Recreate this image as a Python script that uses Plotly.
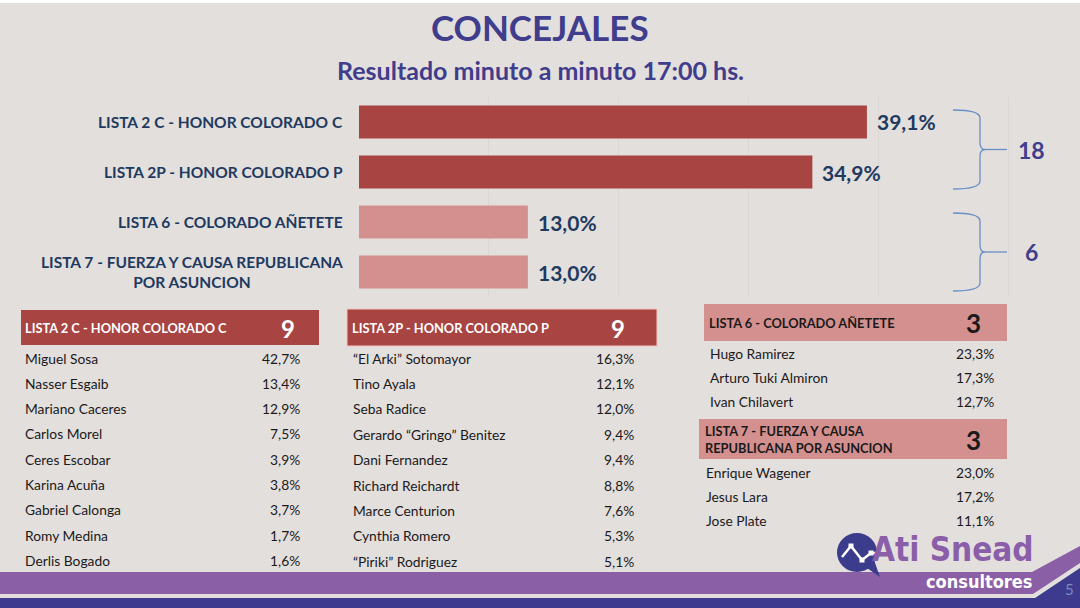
import plotly.graph_objects as go

# ------------------------ data ------------------------
listas = ["LISTA 2 C - HONOR COLORADO C",
          "LISTA 2P - HONOR COLORADO P",
          "LISTA 6 - COLORADO AÑETETE",
          "LISTA 7 - FUERZA Y CAUSA REPUBLICANA<br>POR ASUNCION"]
votos = [39.1, 34.9, 13.0, 13.0]
bar_colors = ["#A84442", "#A84442", "#D4908F", "#D4908F"]
bancas = ["18", "6"]

titulo = "CONCEJALES"
subtitulo = "Resultado minuto a minuto 17:00 hs."

t1_header = "LISTA 2 C - HONOR COLORADO C"
t1_bancas = "9"
t1_nombres = ["Miguel Sosa", "Nasser Esgaib", "Mariano Caceres", "Carlos Morel", "Ceres Escobar",
              "Karina Acuña", "Gabriel Calonga", "Romy Medina", "Derlis Bogado"]
t1_pct = ["42,7%", "13,4%", "12,9%", "7,5%", "3,9%", "3,8%", "3,7%", "1,7%", "1,6%"]

t2_header = "LISTA 2P - HONOR COLORADO P"
t2_bancas = "9"
t2_nombres = ["“El Arki” Sotomayor", "Tino Ayala", "Seba Radice", "Gerardo “Gringo” Benitez",
              "Dani Fernandez", "Richard Reichardt", "Marce Centurion", "Cynthia Romero", "“Piriki” Rodriguez"]
t2_pct = ["16,3%", "12,1%", "12,0%", "9,4%", "9,4%", "8,8%", "7,6%", "5,3%", "5,1%"]

t3_header = "LISTA 6 - COLORADO AÑETETE"
t3_bancas = "3"
t3_nombres = ["Hugo Ramirez", "Arturo Tuki Almiron", "Ivan Chilavert"]
t3_pct = ["23,3%", "17,3%", "12,7%"]

t4_header = "LISTA 7 - FUERZA Y CAUSA<br>REPUBLICANA POR ASUNCION"
t4_bancas = "3"
t4_nombres = ["Enrique Wagener", "Jesus Lara", "Jose Plate"]
t4_pct = ["23,0%", "17,2%", "11,1%"]

# ------------------------ helpers ------------------------
W, H = 1080, 608
BG = "#E3DFDD"
NAVY = "#1F3A5F"
PURPLE = "#3F3D8C"
FONT = "Lato, 'Open Sans', sans-serif"
LOGO_FONT = "'DejaVu Sans Condensed', 'Roboto', sans-serif"


def px(x):
    return x / W


def py(y):
    return 1 - y / H


def fmt(v):
    return f"{v:.1f}%".replace(".", ",")


shapes = []
annotations = []


def txt(x, y, text, size, color="#1A1A1A", bold=False, xanchor="left", align="left", family=FONT):
    annotations.append(dict(x=px(x), y=py(y), xref="paper", yref="paper", text=text,
                            showarrow=False, xanchor=xanchor, yanchor="middle", align=align,
                            font=dict(family=family, size=size, color=color,
                                      weight="bold" if bold else "normal")))


def rect(x0, y0, x1, y1, fill, line=None, layer="below"):
    shapes.append(dict(type="rect", xref="paper", yref="paper", x0=px(x0), x1=px(x1),
                       y0=py(y1), y1=py(y0), fillcolor=fill, layer=layer,
                       line=dict(width=1 if line else 0, color=line or fill)))


def path(points, fill=None, color=None, width=0, closed=True):
    d = "M " + " L ".join(f"{px(a):.5f},{py(b):.5f}" for a, b in points)
    if closed:
        d += " Z"
    shapes.append(dict(type="path", xref="paper", yref="paper", path=d,
                       fillcolor=fill, line=dict(color=color or "rgba(0,0,0,0)", width=width)))


def brace(top, bottom, label):
    mid = (top + bottom) / 2
    xt, xv, xp, xe = 953, 980, 985, 1007
    d = (f"M {px(xt)},{py(top)} Q {px(xv)},{py(top)} {px(xv)},{py(top + 8)} "
         f"L {px(xv)},{py(mid - 7)} Q {px(xv)},{py(mid)} {px(xp)},{py(mid)} "
         f"Q {px(xv)},{py(mid)} {px(xv)},{py(mid + 7)} "
         f"L {px(xv)},{py(bottom - 8)} Q {px(xv)},{py(bottom)} {px(xt)},{py(bottom)}")
    shapes.append(dict(type="path", xref="paper", yref="paper", path=d,
                       line=dict(color="#6A8FC6", width=1.3)))
    path([(xp, mid), (xe, mid)], color="#6A8FC6", width=1.3, closed=False)
    txt(1031, mid, label, 23, PURPLE, True, xanchor="center")


def tabla(x_nombre, x_pct, y0, step, nombres, pct):
    for i, (n, p) in enumerate(zip(nombres, pct)):
        txt(x_nombre, y0 + i * step, n, 13.8)
        txt(x_pct, y0 + i * step, p, 13.8, xanchor="right")


# ------------------------ main bar chart ------------------------
fig = go.Figure(go.Bar(
    x=votos, y=listas, orientation="h",
    marker=dict(color=bar_colors, line=dict(width=0)),
    width=0.66, hoverinfo="skip",
))

for v, lab in zip(votos, listas):
    annotations.append(dict(x=v, y=lab, xref="x", yref="y", text=fmt(v), showarrow=False,
                            xanchor="left", yanchor="middle", xshift=8,
                            font=dict(family=FONT, size=21, color=NAVY, weight="bold")))
    annotations.append(dict(x=px(345), y=lab, xref="paper", yref="y", text=lab, showarrow=False,
                            xanchor="right", yanchor="middle", align="center",
                            font=dict(family=FONT, size=15.5, color=NAVY, weight="bold")))

# ------------------------ slide decorations ------------------------
rect(0, 0, W, 3, "white")
txt(540, 27, titulo, 35, PURPLE, True, xanchor="center")
txt(540, 70, subtitulo, 25, PURPLE, True, xanchor="center")

brace(110, 189, bancas[0])
brace(213, 291, bancas[1])

# table headers
rect(21, 310, 319, 345, "#A84442")
txt(23, 328, t1_header, 12.8, "white", True)
txt(288, 328, t1_bancas, 24, "white", True, xanchor="center")
tabla(23, 302, 358, 25.3, t1_nombres, t1_pct)

rect(347, 309, 657, 346, "#A84442", line="#F2C6C3")
txt(350, 328, t2_header, 12.8, "white", True)
txt(618, 328, t2_bancas, 24, "white", True, xanchor="center")
tabla(351, 636, 358, 25.4, t2_nombres, t2_pct)

rect(704, 304, 1007, 341, "#D4908F")
txt(707, 323, t3_header, 12.8, "#1A1A1A", True)
txt(973, 323, t3_bancas, 26, "#1A1A1A", True, xanchor="center")
tabla(708, 996, 353, 24, t3_nombres, t3_pct)

rect(699, 419, 1007, 459, "#D4908F")
txt(703, 439, t4_header, 12.8, "#1A1A1A", True)
txt(973, 440, t4_bancas, 26, "#1A1A1A", True, xanchor="center")
tabla(704, 996, 472, 24, t4_nombres, t4_pct)

# footer bands
path([(0, 572), (1032, 572), (1080, 546), (1080, 563), (1033, 594), (0, 594)], fill="#8A5FA5")
path([(0, 598), (1035, 598), (1080, 568), (1080, 608), (0, 608)], fill="#3E3B8E")
txt(1063, 589, "5", 15, "#8088BC")

# logo
shapes.append(dict(type="circle", xref="paper", yref="paper", x0=px(837), x1=px(877),
                   y0=py(572), y1=py(533), fillcolor="#3C3C8C", line=dict(width=0)))
path([(864, 566), (880, 577), (874, 560)], fill="#3C3C8C")
path([(842, 557), (851, 546), (862, 560), (871, 553), (878, 553)], color="white", width=2.5, closed=False)
for a, b in [(851, 546), (862, 560), (871, 553)]:
    rect(a - 2.5, b - 2.5, a + 2.5, b + 2.5, "white", layer="above")
txt(953, 549, "Ati Snead", 33, "#8A5EA8", True, xanchor="center", family=LOGO_FONT)
txt(979, 581, "consultores", 18, "white", True, xanchor="center", family=LOGO_FONT)

fig.update_layout(
    width=W, height=H,
    margin=dict(l=0, r=0, t=0, b=0),
    paper_bgcolor=BG, plot_bgcolor=BG,
    showlegend=False,
    xaxis=dict(domain=[px(359), px(1028)], range=[0, 51.5], dtick=10,
               showgrid=True, gridcolor="#DAD6D4", gridwidth=1,
               showticklabels=False, zeroline=False, showline=False, fixedrange=True),
    yaxis=dict(domain=[py(297), py(97)], autorange="reversed", showticklabels=False,
               showgrid=False, zeroline=False, showline=False, fixedrange=True),
    shapes=shapes,
    annotations=annotations,
)

fig.write_html("out.html", config={"displayModeBar": False},
               post_script="document.body.style.margin='0';document.body.style.overflow='hidden';")
